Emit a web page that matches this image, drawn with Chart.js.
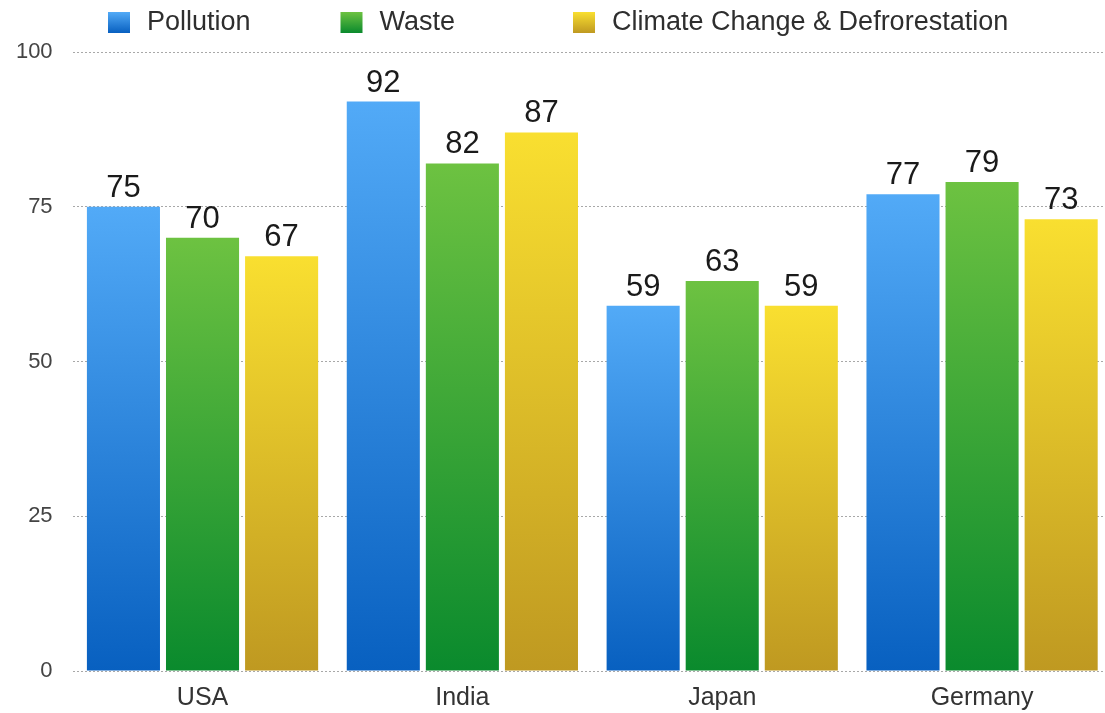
<!DOCTYPE html>
<html>
<head>
<meta charset="utf-8">
<script src="https://cdn.jsdelivr.net/npm/chart.js@4"></script>
<style>
html,body{margin:0;padding:0;background:#fff;overflow:hidden;width:1105px;height:713px;}
#wrap{width:1112px;height:713px;position:relative;}
</style>
</head>
<body>
<div id="wrap"><canvas id="c"></canvas></div>
<script>
const categories = ["USA", "India", "Japan", "Germany"];
const seriesNames = ["Pollution", "Waste", "Climate Change & Defrorestation"];
const pollution = [75, 92, 59, 77];
const waste = [70, 82, 63, 79];
const climate = [67, 87, 59, 73];
const yTicks = [0, 25, 50, 75, 100];

const FONT = '"Liberation Sans", Arial, Helvetica, sans-serif';
const gradStops = [
  ["#52aaf7", "#0860c0"],
  ["#6dc241", "#0a8a2d"],
  ["#f9df30", "#bf9921"]
];

function grad(idx) {
  return function(ctx) {
    const chart = ctx.chart;
    const area = chart.chartArea;
    if (!area || !chart.scales.y) return gradStops[idx][1];
    const yTop = chart.scales.y.getPixelForValue(ctx.raw);
    const g = chart.ctx.createLinearGradient(0, yTop, 0, area.bottom);
    g.addColorStop(0, gradStops[idx][0]);
    g.addColorStop(1, gradStops[idx][1]);
    return g;
  };
}

const valueLabels = {
  id: 'valueLabels',
  afterDatasetsDraw(chart) {
    const c = chart.ctx;
    c.save();
    c.font = '31px ' + FONT;
    c.fillStyle = '#1a1a1a';
    c.textAlign = 'center';
    c.textBaseline = 'alphabetic';
    chart.data.datasets.forEach((ds, i) => {
      chart.getDatasetMeta(i).data.forEach((bar, j) => {
        c.fillText(String(ds.data[j]), bar.x, bar.y - 10);
      });
    });
    c.restore();
  }
};

const customLegend = {
  id: 'customLegend',
  afterDraw(chart) {
    const c = chart.ctx;
    c.save();
    c.font = '27px ' + FONT;
    c.textBaseline = 'middle';
    c.textAlign = 'left';
    seriesNames.forEach((name, i) => {
      const bx = 108 + i * 232.5;
      const by = 12;
      const g = c.createLinearGradient(0, by, 0, by + 21);
      g.addColorStop(0, gradStops[i][0]);
      g.addColorStop(1, gradStops[i][1]);
      c.fillStyle = g;
      c.fillRect(bx, by, 22, 21);
      c.fillStyle = '#2e2e2e';
      c.fillText(name, bx + 39, by + 11);
    });
    c.restore();
  }
};

const seriesData = [pollution, waste, climate];
new Chart(document.getElementById('c'), {
  type: 'bar',
  data: {
    labels: categories,
    datasets: seriesNames.map((n, i) => ({
      label: n,
      data: seriesData[i],
      backgroundColor: grad(i),
      borderWidth: 0,
      categoryPercentage: 0.913,
      barPercentage: 0.924
    }))
  },
  options: {
    responsive: true,
    maintainAspectRatio: false,
    animation: false,
    layout: { padding: { left: 0, right: 0, top: 52, bottom: 0 } },
    plugins: {
      tooltip: { enabled: false },
      legend: { display: false }
    },
    scales: {
      x: {
        grid: { display: false, drawTicks: false },
        border: { display: false },
        afterFit(scale) { scale.height = 42; },
        ticks: {
          font: { family: FONT, size: 25 },
          color: '#333',
          padding: 12
        }
      },
      y: {
        min: 0,
        max: 100,
        afterBuildTicks(scale) { scale.ticks = yTicks.map(v => ({ value: v })); },
        afterFit(scale) { scale.width = 72.6; },
        grid: {
          color: '#a8a8a8',
          lineWidth: 1,
          drawTicks: false
        },
        border: { display: false, dash: [2, 2] },
        ticks: {
          font: { family: FONT, size: 22 },
          color: '#444',
          padding: 20
        }
      }
    }
  },
  plugins: [valueLabels, customLegend]
});
</script>
</body>
</html>
